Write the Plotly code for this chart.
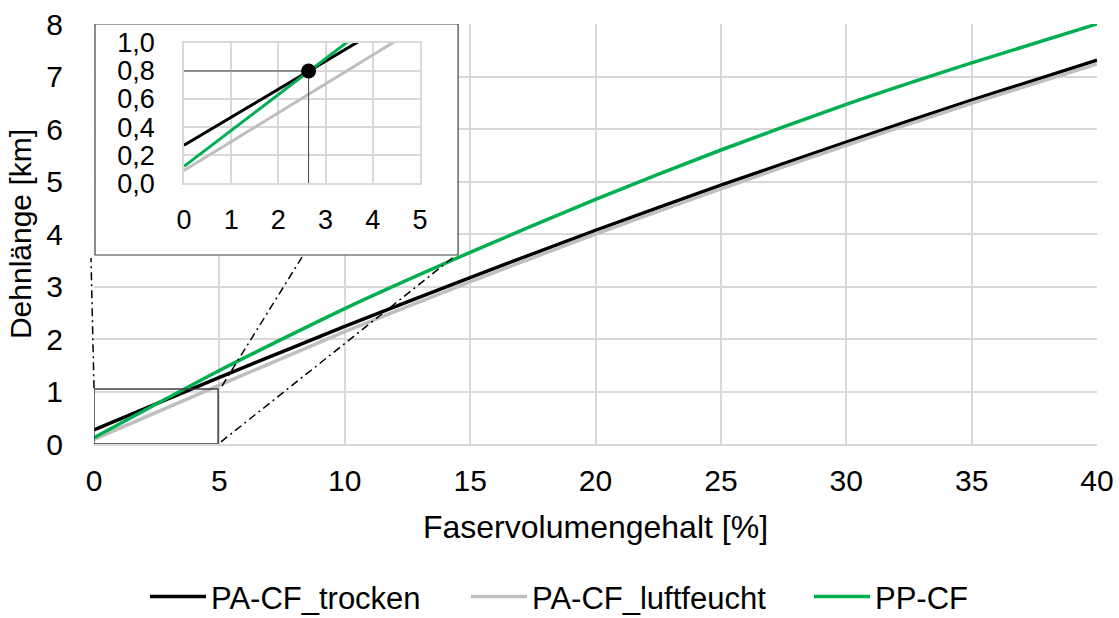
import plotly.graph_objects as go

# ---- data ----
fvg = [0, 5, 10, 15, 20, 25, 30, 35, 40]                      # Faservolumengehalt [%]
pa_cf_trocken = [0.27, 1.27, 2.24, 3.17, 4.07, 4.93, 5.75, 6.55, 7.31]
pa_cf_luftfeucht = [0.09, 1.12, 2.14, 3.09, 4.00, 4.86, 5.69, 6.49, 7.24]
pp_cf = [0.12, 1.40, 2.58, 3.65, 4.66, 5.60, 6.47, 7.26, 8.00]
names = ["PA-CF_trocken", "PA-CF_luftfeucht", "PP-CF"]
colors = ["#000000", "#BFBFBF", "#00B050"]
schnitt_x = [2.64]   # intersection point shown in the inset
schnitt_y = [0.80]

main_xticks = [0, 5, 10, 15, 20, 25, 30, 35, 40]
main_yticks = [0, 1, 2, 3, 4, 5, 6, 7, 8]
inset_xticks = [0, 1, 2, 3, 4, 5]
inset_yticks = [0.0, 0.2, 0.4, 0.6, 0.8, 1.0]

FONT = "Arial, Liberation Sans, sans-serif"
GRID = "#D9D9D9"

fig = go.Figure()
series = [pa_cf_trocken, pa_cf_luftfeucht, pp_cf]
legend_ids = ["legend", "legend2", "legend3"]

for nm, ys, c, lg in zip(names, series, colors, legend_ids):
    fig.add_trace(go.Scatter(x=fvg, y=ys, mode="lines", name=nm,
                             line=dict(color=c, width=3.5, shape="spline", smoothing=0.6),
                             xaxis="x", yaxis="y", showlegend=True, legend=lg))

# inset traces
for nm, ys, c in zip(names, series, colors):
    fig.add_trace(go.Scatter(x=fvg, y=ys, mode="lines", name=nm,
                             line=dict(color=c, width=3),
                             xaxis="x2", yaxis="y2", showlegend=False, hoverinfo="skip"))

# guide lines to the intersection point
fig.add_trace(go.Scatter(x=[0, schnitt_x[0], schnitt_x[0]], y=[schnitt_y[0], schnitt_y[0], 0],
                         mode="lines", line=dict(color="#404040", width=1),
                         xaxis="x2", yaxis="y2", showlegend=False, hoverinfo="skip"))
fig.add_trace(go.Scatter(x=schnitt_x, y=schnitt_y, mode="markers",
                         marker=dict(color="#000000", size=15),
                         xaxis="x2", yaxis="y2", showlegend=False))

DASH = "8px,4px,2px,4px"
shapes = [
    # white inset box covering the main grid
    dict(type="rect", xref="x", yref="y", x0=0.04, x1=14.52, y0=3.6, y1=8.0,
         fillcolor="white", line=dict(color="#404040", width=1.2), layer="between"),
    # small zoom rectangle
    dict(type="rect", xref="x", yref="y", x0=0.0, x1=4.95, y0=0.0, y1=1.05,
         fillcolor="rgba(0,0,0,0)", line=dict(color="#404040", width=1.5), layer="above"),
    # dash-dot connectors
    dict(type="line", xref="paper", yref="paper", x0=0.0, y0=0.133, x1=-0.003, y1=0.443,
         line=dict(color="#000000", width=1.5, dash=DASH), layer="above"),
    dict(type="line", xref="paper", yref="paper", x0=0.1276, y0=0.138, x1=0.2074, y1=0.445,
         line=dict(color="#000000", width=1.5, dash=DASH), layer="above"),
    dict(type="line", xref="paper", yref="paper", x0=0.1266, y0=0.005, x1=0.360, y1=0.448,
         line=dict(color="#000000", width=1.5, dash=DASH), layer="above"),
]

legend_common = dict(orientation="h", y=-0.364, yanchor="middle", xanchor="left",
                     font=dict(size=31), bgcolor="rgba(0,0,0,0)", itemwidth=56)

# figure is a little taller than the window so the legend is not clipped;
# the window shows the top 618 px
fig.update_layout(
    width=1119, height=640,
    margin=dict(l=94, r=22, t=24, b=196, autoexpand=False),
    paper_bgcolor="white", plot_bgcolor="white",
    font=dict(family=FONT, size=30, color="#000000"),
    separators=",.",
    shapes=shapes,
    xaxis=dict(range=[0, 40], tickvals=main_xticks, showgrid=True, gridcolor=GRID, gridwidth=1.5,
               zeroline=False, showline=True, linecolor=GRID, linewidth=1.5, automargin=False,
               ticks="", ticklabelstandoff=9, ticklabeloverflow="allow",
               title=dict(text="Faservolumengehalt [%]", font=dict(size=32), standoff=20)),
    yaxis=dict(range=[0, 8], tickvals=main_yticks, showgrid=True, gridcolor=GRID, gridwidth=1.5,
               zeroline=False, showline=False, ticks="", ticklabelstandoff=30, automargin=False,
               ticklabeloverflow="allow",
               title=dict(text="Dehnlänge [km]", font=dict(size=30), standoff=5)),
    xaxis2=dict(domain=[0.0897, 0.325], anchor="y2", range=[0, 5], tickvals=inset_xticks,
                showgrid=True, gridcolor=GRID, gridwidth=1.5, zeroline=False, automargin=False,
                showline=True, mirror=True, linecolor=GRID, linewidth=1.5,
                ticks="", ticklabelstandoff=12, tickfont=dict(size=27)),
    yaxis2=dict(domain=[0.621, 0.955], anchor="x2", range=[0, 1.0], tickvals=inset_yticks,
                tickformat=".1f", showgrid=True, gridcolor=GRID, gridwidth=1.5, zeroline=False,
                showline=True, mirror=True, linecolor=GRID, linewidth=1.5, automargin=False,
                ticks="", ticklabelstandoff=22, tickfont=dict(size=27)),
    legend=dict(x=(145 - 94) / 1003, **legend_common),
    legend2=dict(x=(466 - 94) / 1003, **legend_common),
    legend3=dict(x=(809 - 94) / 1003, **legend_common),
    showlegend=True,
)

# remove the browser's default 8px body margin so the figure starts at the window corner
fig.write_html("out.html", config={"displayModeBar": False},
               post_script="document.body.style.margin='0px';")
